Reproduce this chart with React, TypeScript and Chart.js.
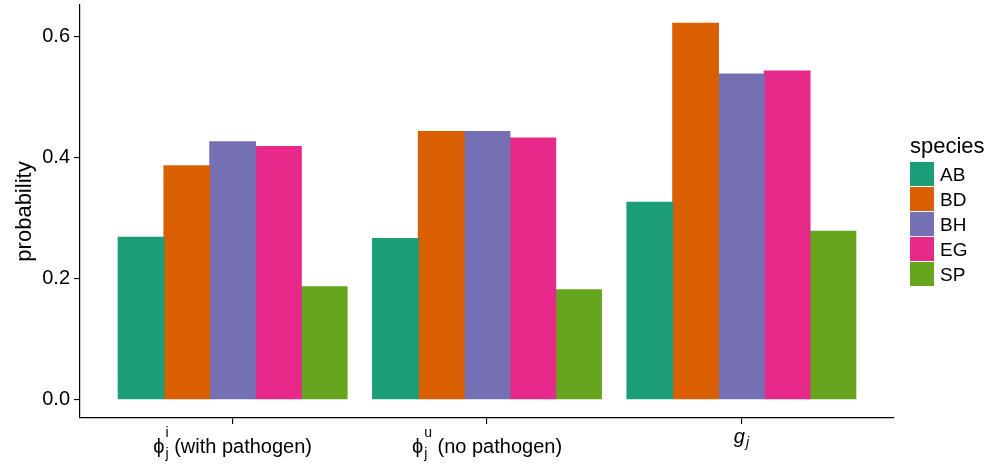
import React, { useEffect, useRef } from "react";
import { Chart, registerables } from "chart.js";

Chart.register(...registerables);

// ---- data ----
const categories = [1, 2, 3];
const species = ["AB", "BD", "BH", "EG", "SP"];
const valuesAB = [0.268, 0.266, 0.326];
const valuesBD = [0.386, 0.443, 0.622];
const valuesBH = [0.426, 0.443, 0.538];
const valuesEG = [0.418, 0.432, 0.543];
const valuesSP = [0.186, 0.181, 0.278];
const seriesValues = [valuesAB, valuesBD, valuesBH, valuesEG, valuesSP];
const colors = ["#1B9E77", "#D95F02", "#7570B3", "#E7298A", "#66A61E"];

// x tick labels: base symbol, superscript, subscript, rest
const tickBase = ["ϕ", "ϕ", "g"];
const tickSup = ["i", "u", ""];
const tickSub = ["j", "j", "j"];
const tickRest = [" (with pathogen)", " (no pathogen)", ""];
const tickItalic = [false, false, true];

const yTicks = [0, 0.2, 0.4, 0.6];
const yTitle = "probability";
const legendTitle = "species";

const FONT = "'Liberation Sans', Arial, Helvetica, sans-serif";

const customDraw = {
  id: "customDraw",
  afterDraw(chart: any) {
    const ctx = chart.ctx;
    const xs = chart.scales.x;
    ctx.save();
    ctx.fillStyle = "#000";
    // x labels
    categories.forEach((c, i) => {
      const cx = xs.getPixelForValue(c);
      const it = tickItalic[i];
      const baseFont = `${it ? "italic " : ""}20px ${FONT}`;
      const smallFont = `${it ? "italic " : ""}14px ${FONT}`;
      ctx.font = baseFont;
      const wBase = ctx.measureText(tickBase[i]).width;
      const wRest = ctx.measureText(tickRest[i]).width;
      ctx.font = smallFont;
      const wSmall = Math.max(
        ctx.measureText(tickSup[i]).width,
        ctx.measureText(tickSub[i]).width
      );
      const gap = 1;
      const total = wBase + gap + wSmall + wRest;
      let x = cx - total / 2;
      const baseline = it ? 443 : 453;
      ctx.textAlign = "left";
      ctx.textBaseline = "alphabetic";
      ctx.font = baseFont;
      ctx.fillText(tickBase[i], x, baseline);
      x += wBase + gap;
      ctx.font = smallFont;
      if (tickSup[i]) ctx.fillText(tickSup[i], x, baseline - 16);
      if (tickSub[i]) ctx.fillText(tickSub[i], x, baseline + (it ? 4 : 5));
      x += wSmall;
      ctx.font = baseFont;
      if (tickRest[i]) ctx.fillText(tickRest[i], x, baseline);
    });
    // legend
    ctx.font = `22px ${FONT}`;
    ctx.textAlign = "left";
    ctx.textBaseline = "alphabetic";
    ctx.fillText(legendTitle, 910, 153);
    species.forEach((s, i) => {
      const y = 162 + i * 25;
      ctx.fillStyle = colors[i];
      ctx.fillRect(910, y, 24, 24);
      ctx.fillStyle = "#000";
      ctx.font = `19px ${FONT}`;
      ctx.fillText(s, 940, y + 12 + 7);
    });
    ctx.restore();
  },
};

export default function App() {
  const ref = useRef<HTMLCanvasElement | null>(null);
  useEffect(() => {
    document.body.style.margin = "0";
    const datasets = species.map((s, i) => ({
      label: s,
      data: categories.map((c, j) => ({ x: c, y: seriesValues[i][j] })),
      backgroundColor: colors[i],
      borderWidth: 0,
      inflateAmount: 0.5,
      categoryPercentage: 0.9,
      barPercentage: 1.0,
    }));
    const chart = new Chart(ref.current as HTMLCanvasElement, {
      type: "bar",
      data: { datasets } as any,
      options: {
        animation: false,
        responsive: false,
        layout: { padding: { top: 5, right: 103, bottom: 0, left: 0 } },
        plugins: {
          legend: { display: false },
          tooltip: { enabled: false },
        },
        scales: {
          x: {
            type: "linear",
            min: 0.4,
            max: 3.6,
            offset: false,
            afterBuildTicks: (s: any) => {
              s.ticks = categories.map((v) => ({ value: v }));
            },
            afterFit: (s: any) => {
              s.height = 48;
              s.paddingLeft = 0;
              s.paddingRight = 0;
            },
            ticks: { display: false },
            grid: {
              display: true,
              offset: false,
              drawOnChartArea: false,
              drawTicks: true,
              tickLength: 6,
              color: "#000",
              lineWidth: 1.1,
            },
            border: { display: true, color: "#000", width: 1.2 },
          },
          y: {
            type: "linear",
            min: -0.031,
            max: 0.652,
            afterBuildTicks: (s: any) => {
              s.ticks = yTicks.map((v) => ({ value: v }));
            },
            afterFit: (s: any) => {
              s.width = 80;
              s.paddingTop = 0;
              s.paddingBottom = 0;
            },
            ticks: {
              color: "#000",
              font: { family: FONT, size: 20 },
              padding: 4,
              callback: (v: any) => Number(v).toFixed(1),
            },
            title: {
              display: true,
              text: yTitle,
              color: "#000",
              font: { family: FONT, size: 22 },
              padding: { top: 12, bottom: 0 },
            },
            grid: {
              display: true,
              offset: false,
              drawOnChartArea: false,
              drawTicks: true,
              tickLength: 6,
              color: "#000",
              lineWidth: 1.1,
            },
            border: { display: true, color: "#000", width: 1.2 },
          },
        },
      } as any,
      plugins: [customDraw],
    });
    return () => chart.destroy();
  }, []);
  return (
    <div style={{ position: "absolute", left: 0, top: 0, width: 997, height: 466 }}>
      <canvas ref={ref} width={997} height={466} />
    </div>
  );
}
